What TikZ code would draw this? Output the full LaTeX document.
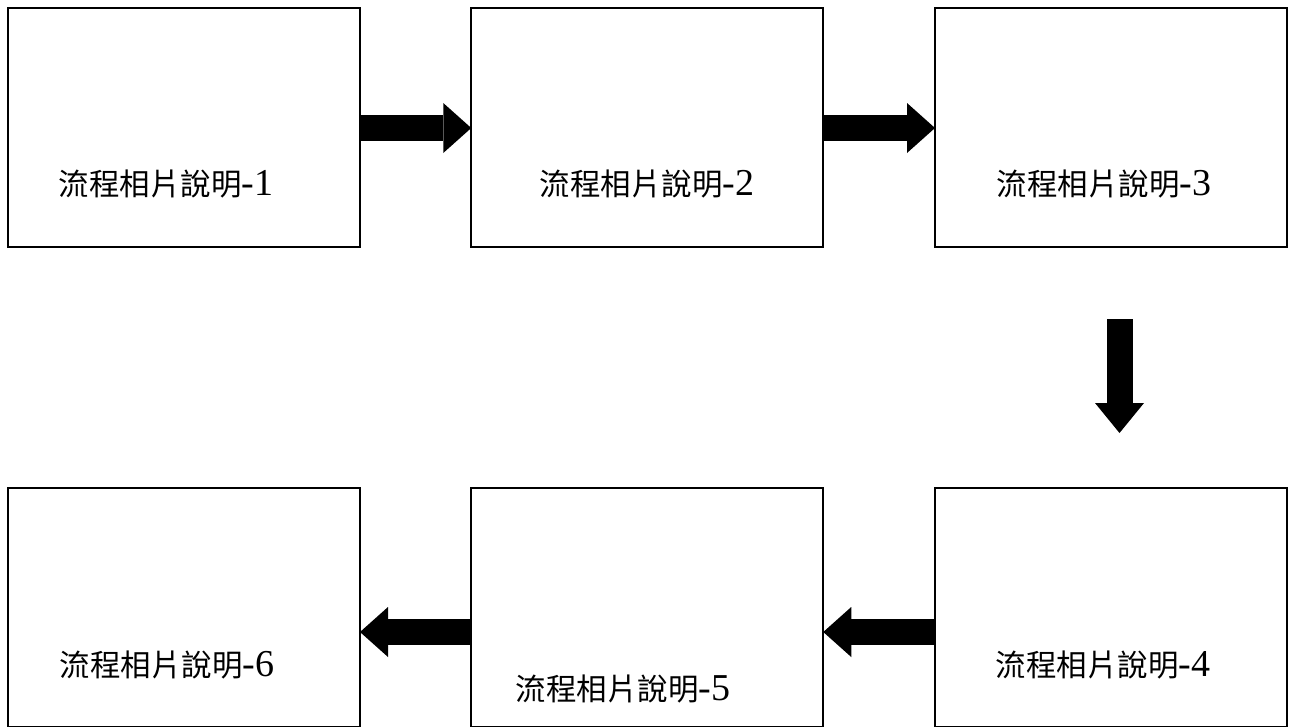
\documentclass[tikz,border=0pt]{standalone}
\usepackage{fontspec}
\setmainfont{Liberation Serif}
\newfontfamily\cjk{Noto Sans CJK TC}
\usetikzlibrary{arrows.meta,calc}
\tikzset{
  box/.style={draw=black, line width=1.6pt, minimum width=352pt, minimum height=239pt, inner sep=0pt, outer sep=0pt},
  lbl/.style={inner sep=0pt, font=\fontsize{38}{42}\selectfont},
  bigarrow/.style={line width=26pt, -{Triangle[length=28pt,width=50pt,line width=0pt]}},
}
\newcommand{\steptext}[1]{{\fontsize{30.5}{34}\selectfont\cjk 流程相片說明}-#1}
\begin{document}
\begin{tikzpicture}[x=1pt,y=-1pt]
\useasboundingbox (0,0) rectangle (1295,726);
\clip (0,0) rectangle (1295,726);
\node[box] (b1) at (184,127.5) {};
\node[box] (b2) at (647.25,127.5) {};
\node[box] (b3) at (1111,127.5) {};
\node[box] (b4) at (1111,607.5) {};
\node[box] (b5) at (647.25,607.5) {};
\node[box] (b6) at (184,607.5) {};
\node[lbl] (t1) at (166,184) {\steptext{1}};
\node[lbl] (t2) at (647,184) {\steptext{2}};
\node[lbl] (t3) at (1104,184) {\steptext{3}};
\node[lbl] (t4) at (1103,665) {\steptext{4}};
\node[lbl] (t5) at (623,689) {\steptext{5}};
\node[lbl] (t6) at (167,665) {\steptext{6}};
\coordinate (d1) at (1119.5,319);
\coordinate (d2) at (1119.5,433);
\draw[bigarrow] ($(b1.east)+(0,0.5)$) -- ($(b2.west)+(0,0.5)$);
\draw[bigarrow] ($(b2.east)+(0,0.5)$) -- ($(b3.west)+(0,0.5)$);
\draw[bigarrow, -{Triangle[length=30pt,width=49pt,line width=0pt]}] (d1) -- (d2);
\draw[bigarrow] ($(b4.west)+(0,24.5)$) -- ($(b5.east)+(0,24.5)$);
\draw[bigarrow] ($(b5.west)+(0,24.5)$) -- ($(b6.east)+(0,24.5)$);
\end{tikzpicture}
\end{document}
